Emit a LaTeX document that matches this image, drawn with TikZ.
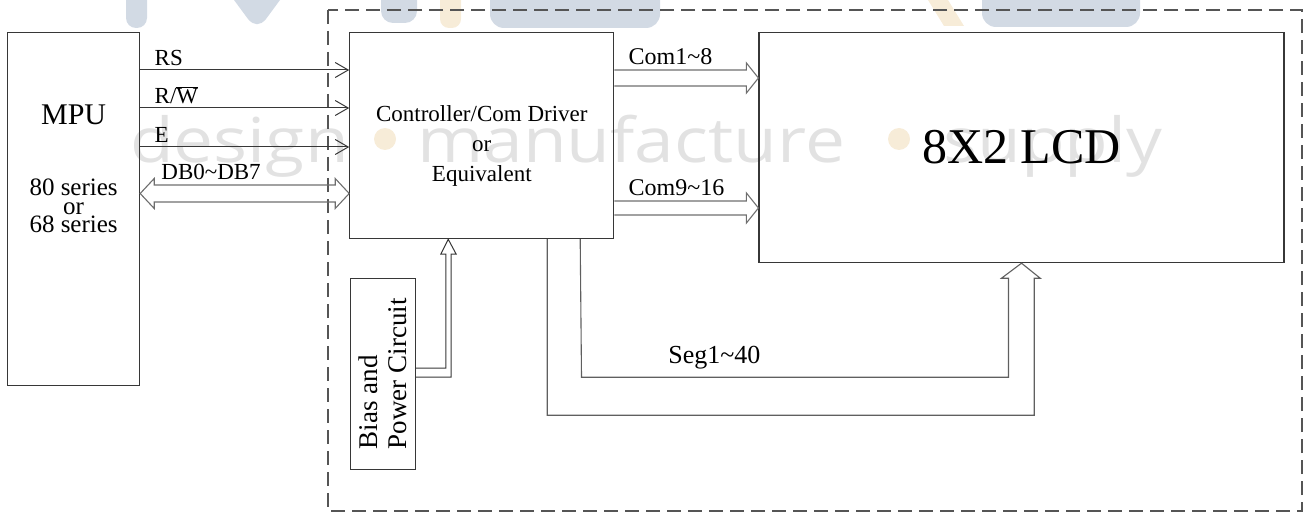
\documentclass[tikz,border=0pt]{standalone}
\usepackage{fontspec}
\setmainfont{Liberation Serif}
\newfontfamily\markfont{Open Sans}
\usetikzlibrary{positioning,arrows.meta,calc}
\definecolor{LineGray}{RGB}{55,55,55}
\definecolor{BusGray}{RGB}{110,110,110}
\definecolor{FrameGray}{RGB}{85,85,85}
\definecolor{MarkGray}{RGB}{226,226,226}
\definecolor{MarkBlue}{RGB}{210,218,228}
\definecolor{MarkSand}{RGB}{247,236,216}

\begin{document}
\begin{tikzpicture}[x=1pt,y=-1pt,
box/.style={rectangle,draw=LineGray,line width=1.2pt,inner sep=0pt,anchor=north west},
sig/.style={-{Straight Barb[length=13pt,width=15pt]},line width=1pt,draw=LineGray},
bus/.style={line width=1.1pt,draw=BusGray},
lbl/.style={anchor=base west,inner sep=0pt,font=\fontsize{23}{23}\selectfont},
wmtext/.style={anchor=base west,inner sep=0pt,text=MarkGray,xscale=1.15,font=\markfont\fontsize{62}{62}\selectfont},
wmdot/.style={circle,fill=MarkSand,inner sep=0pt,minimum size=22pt}
]
\useasboundingbox (0,0) rectangle (1308,513);

% faint logo and watermark
\fill[MarkBlue,rounded corners=10pt] (126,-20) rectangle (147,28);
\fill[MarkBlue] (234,0) -- (280,0) -- (266,19) .. controls (260,26) and (254,26) .. (248,19) -- cycle;
\fill[MarkBlue,rounded corners=12pt] (381,-20) rectangle (417,23);
\fill[MarkSand,rounded corners=9pt] (440,-20) rectangle (461,28);
\fill[MarkBlue,rounded corners=14pt] (490,-30) rectangle (660,28);
\fill[MarkSand] (928,0) -- (948,0) -- (964,26) -- (944,26) -- cycle;
\fill[MarkBlue,rounded corners=14pt] (982,-30) rectangle (1140,27);
\node[wmtext] (wmdesign) at (130,163) {design};
\node[wmdot] (wmdot1) at (385,139) {};
\node[wmtext] (wmmanu) at (417,163) {manufacture};
\node[wmdot] (wmdot2) at (899,139) {};
\node[wmtext] (wmsupply) at (943,163) {supply};

\draw[FrameGray,line width=1.2pt,dash pattern=on 14pt off 7pt] (328,10) rectangle (1302,511);

\node[box,minimum width=132pt,minimum height=353pt] (mpu) at (7,32) {};
\node[anchor=base,font=\fontsize{30}{30}\selectfont] (mputitle) at ($(mpu.north)+(0,93)$) {MPU};
\node[align=center,font=\fontsize{25}{18.5}\selectfont] (mpuseries) at ($(mpu.north)+(0,174)$) {80 series\\or\\68 series};

\node[box,minimum width=264pt,minimum height=206pt,below right=0pt and 209pt of mpu.north east] (ctrl) {};
\node[align=center,font=\fontsize{23}{30}\selectfont] (ctrltext) at ($(ctrl.center)+(0,10)$) {Controller/Com Driver\\or\\Equivalent};
\node[box,minimum width=525pt,minimum height=230pt,below right=0pt and 144pt of ctrl.north east,
  font=\fontsize{50}{50}\selectfont] (lcd) {8X2 LCD};
\node[box,rotate=90,anchor=center,minimum width=191pt,minimum height=65pt,align=left,
  font=\fontsize{27}{29}\selectfont] (bias) at ($(ctrl.south west)+(33.5,134.5)$) {Bias and\\Power Circuit};

\foreach \dy/\txt in {38pt/RS,76pt/{R/$\overline{\hbox{W}}$},115pt/E}
  \draw[sig] ([yshift=-\dy]mpu.north east) -- node[lbl,pos=0,xshift=14pt,yshift=4.5pt] {\txt} ([yshift=-\dy]ctrl.north west);

\coordinate (dbl) at ([yshift=-161.5pt]mpu.north east);
\coordinate (dbr) at ([yshift=-161.5pt]ctrl.north west);
\draw[bus] (dbl) -- ++(14,-15) -- ++(0,6.5) -- ($(dbr)+(-14,-8.5)$) -- ++(0,-6.5) -- (dbr)
  -- ++(-14,15) -- ++(0,-6.5) -- ($(dbl)+(14,8.5)$) -- ++(0,6.5) -- cycle;
\node[lbl] (dblabel) at ($(dbl)+(21,-14.5)$) {DB0\textasciitilde DB7};

\foreach \dy/\hw/\txt in {46pt/8/{Com1\textasciitilde 8},176pt/7/{Com9\textasciitilde 16}} {
  \coordinate (cs) at ([yshift=-\dy]ctrl.north east);
  \coordinate (ce) at ([yshift=-\dy]lcd.north west);
  \draw[bus] ($(cs)+(0,-\hw)$) -- ($(ce)+(-12,-\hw)$) -- ($(ce)+(-12,-15)$) -- (ce)
    -- ($(ce)+(-12,15)$) -- ($(ce)+(-12,\hw)$) -- ($(cs)+(0,\hw)$);
  \node[lbl,font=\fontsize{24}{24}\selectfont] at ($(cs)+(14,-13)$) {\txt};
}

\coordinate (sega) at ([xshift=198pt]ctrl.south west);
\coordinate (segb) at ([xshift=231pt]ctrl.south west);
\draw[bus,draw=LineGray!80] (sega) -- ++(0,176) -- ++(487,0) -- ++(0,-137) -- ++(6,0) -- (lcd.south)
  -- ++(-20,15) -- ++(7,0) -- ++(0,99) -- ++(-427,0) -- (segb);
\node[lbl,font=\fontsize{26}{26}\selectfont] (seglabel) at ($(segb)+(88,124)$) {Seg1\textasciitilde 40};

\coordinate (pwrt) at ([xshift=99pt]ctrl.south west);
\draw[line width=1pt,draw=LineGray] ([yshift=5.5pt]bias.south) -- ++(30,0) -- ++(0,-114) -- ++(-5,0) -- (pwrt)
  -- ++(8,15) -- ++(-5,0) -- ++(0,123) -- ([yshift=-3.5pt]bias.south);
\end{tikzpicture}
\end{document}
